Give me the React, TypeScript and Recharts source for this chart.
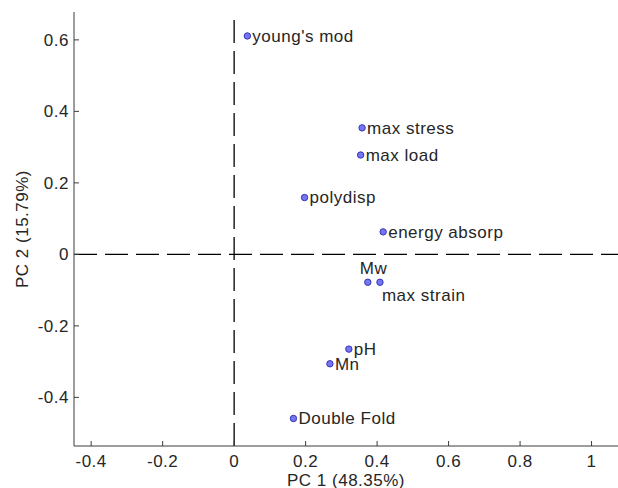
import { ScatterChart, Scatter, XAxis, YAxis, ReferenceLine, Label } from 'recharts';

// PCA loadings: PC1 (48.35%) vs PC2 (15.79%)
const NAMES = [
  "young's mod", 'max stress', 'max load', 'polydisp', 'energy absorp',
  'Mw', 'max strain', 'pH', 'Mn', 'Double Fold',
];
const PC1 = [0.037, 0.358, 0.354, 0.197, 0.417, 0.374, 0.408, 0.321, 0.268, 0.166];
const PC2 = [0.611, 0.354, 0.278, 0.159, 0.063, -0.078, -0.078, -0.265, -0.306, -0.459];
const X_TICKS = [-0.4, -0.2, 0, 0.2, 0.4, 0.6, 0.8, 1];
const Y_TICKS = [-0.4, -0.2, 0, 0.2, 0.4, 0.6];

const points = NAMES.map((name, i) => ({ name, pc1: PC1[i], pc2: PC2[i] }));

const FONT = "Arial, 'Liberation Sans', sans-serif";
const FS = 17;
const SPACING = 0.5;
const INK = '#262626';
const AXIS = '#3c3c3c';

// text sits to the right of the marker, except these two
const LABEL_SHIFT: Record<string, [number, number]> = {
  Mw: [-8, -14],
  'max strain': [2, 13],
};

function Marker(props: any) {
  const { cx, cy, payload } = props;
  const [dx, dy] = LABEL_SHIFT[payload.name] ?? [5, 0];
  return (
    <g>
      <circle cx={cx} cy={cy} r={3.2} fill="#7676f2" stroke="#3535b5" strokeWidth={1} />
      <text
        x={cx + dx}
        y={cy + dy}
        dy="0.35em"
        fontSize={FS}
        letterSpacing={SPACING}
        fontFamily={FONT}
        fill={INK}
      >
        {payload.name}
      </text>
    </g>
  );
}

const fmt = (v: number) => String(v);
const tickStyle = { fill: INK, fontSize: FS, fontFamily: FONT, letterSpacing: SPACING };

export default function App() {
  return (
    <div style={{ position: 'absolute', left: 0, top: 0, background: '#fff' }}>
      <ScatterChart width={618} height={488} margin={{ top: 12, right: 0, bottom: 0, left: 0 }}>
        <XAxis
          type="number"
          dataKey="pc1"
          domain={[-0.448, 1.074]}
          allowDataOverflow
          ticks={X_TICKS}
          tickFormatter={fmt}
          height={42}
          stroke={AXIS}
          tickSize={-5}
          tickMargin={14}
          tick={tickStyle}
        >
          <Label
            content={({ viewBox }: any) => (
              <text
                x={viewBox.x + viewBox.width / 2}
                y={viewBox.y + 39.5}
                textAnchor="middle"
                fontSize={FS}
                letterSpacing={SPACING}
                fontFamily={FONT}
                fill={INK}
              >
                PC 1 (48.35%)
              </text>
            )}
          />
        </XAxis>
        <XAxis
          xAxisId="top"
          orientation="top"
          type="number"
          domain={[-0.448, 1.074]}
          allowDataOverflow
          ticks={X_TICKS}
          tickFormatter={() => ''}
          height={0}
          stroke={AXIS}
          tickSize={-5}
        />
        <YAxis
          type="number"
          dataKey="pc2"
          domain={[-0.536, 0.678]}
          allowDataOverflow
          ticks={Y_TICKS}
          tickFormatter={fmt}
          width={74}
          stroke={AXIS}
          tickSize={-5}
          tickMargin={10}
          tick={tickStyle}
        >
          <Label
            content={({ viewBox }: any) => {
              const cx = 22;
              const cy = viewBox.y + viewBox.height / 2;
              return (
                <text
                  x={cx}
                  y={cy}
                  dy="0.35em"
                  transform={`rotate(-90 ${cx} ${cy})`}
                  textAnchor="middle"
                  fontSize={FS}
                  letterSpacing={SPACING}
                  fontFamily={FONT}
                  fill={INK}
                >
                  PC 2 (15.79%)
                </text>
              );
            }}
          />
        </YAxis>
        <ReferenceLine x={0} stroke="#000" strokeWidth={1.3} strokeDasharray="23 8" />
        <ReferenceLine y={0} stroke="#000" strokeWidth={1.3} strokeDasharray="23 8" />
        <Scatter data={points} shape={Marker} isAnimationActive={false} />
      </ScatterChart>
    </div>
  );
}
